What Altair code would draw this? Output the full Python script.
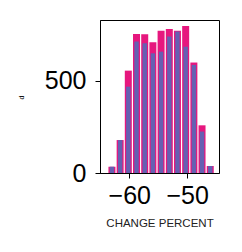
import altair as alt
import pandas as pd

centers = [-63.0, -61.58, -60.17, -58.75, -57.33, -55.92, -54.5, -53.08, -51.67, -50.25, -48.83, -47.42, -46.0]
pink_counts = [34, 179, 556, 755, 753, 710, 773, 782, 773, 799, 600, 259, 38]
blue_counts = [34, 179, 469, 714, 705, 650, 659, 741, 768, 686, 587, 225, 38]

df = pd.DataFrame({"x": centers, "pink": pink_counts, "blue": blue_counts})

font = "Liberation Sans"

xs = alt.Scale(domain=[-64.2, -45.35], nice=False, zero=False)
ys = alt.Scale(domain=[0, 831], nice=False)

base = alt.Chart(df)

pink = base.mark_bar(size=7, color="#e6177e").encode(
    x=alt.X("x:Q", scale=xs, title="CHANGE PERCENT",
            axis=alt.Axis(values=[-60, -50], grid=False, labelFontSize=25, labelFont=font,
                          labelColor="black", tickColor="black", domainColor="black",
                          titleFont=font, titleFontSize=11.5, titleFontWeight="normal",
                          titleColor="#222", tickSize=5, labelPadding=5, titlePadding=9)),
    y=alt.Y("pink:Q", scale=ys, title="d",
            axis=alt.Axis(values=[0, 500], grid=False, labelFontSize=25, labelFont=font,
                          labelColor="black", tickColor="black", domainColor="black",
                          titleFont=font, titleFontSize=7, titleFontWeight="normal",
                          titleColor="black", tickSize=5, labelPadding=9,
                          titleX=-76, titleY=77)),
)

blue = base.mark_bar(size=4.4, color="#6560b2").encode(
    x=alt.X("x:Q", scale=xs),
    y=alt.Y("blue:Q", scale=ys),
)

chart = alt.layer(pink, blue).properties(
    width=119, height=153,
    autosize=alt.AutoSizeParams(type="none"),
    padding={"left": 100, "top": 20, "right": 23, "bottom": 79},
).configure_view(stroke="black", strokeWidth=1)

chart.save("out.html", embed_options={"renderer": "svg", "actions": False})
